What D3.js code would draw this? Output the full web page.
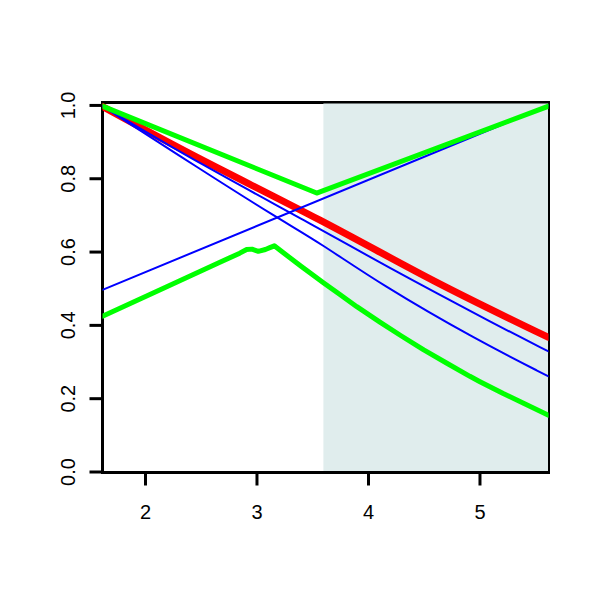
<!DOCTYPE html>
<html><head><meta charset="utf-8">
<script src="https://cdn.jsdelivr.net/npm/d3@7"></script>
<style>body{margin:0;background:#fff}svg{display:block}svg text{font-family:"Liberation Sans",Arial,sans-serif;font-size:20px}</style>
</head><body><svg id="c" width="600" height="600"></svg>
<script>
const xTicks = [2, 3, 4, 5];
const yTicks = [0, 0.2, 0.4, 0.6, 0.8, 1.0];
const xDomain = [1.619, 5.619];
const shadeStart = 3.6;

const redX = [1.619, 2.49, 3.57, 4.6, 5.619];
const redY = [0.997, 0.855, 0.687, 0.52, 0.367];

const blueUpX = [1.619, 5.619];
const blueUpY = [0.497, 1.0];

const blueMidX = [1.619, 2.49, 3.57, 4.107, 5.183, 5.619];
const blueMidY = [0.998, 0.841, 0.664, 0.570, 0.396, 0.329];

const blueLowX = [1.619, 2.49, 3.18, 3.57, 4.107, 4.975, 5.619];
const blueLowY = [0.998, 0.827, 0.694, 0.625, 0.513, 0.360, 0.261];

const greenUpX = [1.619, 3.54, 5.619];
const greenUpY = [0.998, 0.761, 0.998];

const greenLowX = [1.619, 2.2, 2.672, 2.85, 2.912, 2.96, 3.016, 3.08, 3.12, 3.16, 3.4, 3.6, 3.748, 3.9, 4.107, 4.3, 4.5, 4.7, 4.914, 5.0, 5.213, 5.4, 5.619];
const greenLowY = [0.425, 0.506, 0.572, 0.597, 0.607, 0.608, 0.602, 0.607, 0.612, 0.617, 0.561, 0.516, 0.484, 0.451, 0.409, 0.371, 0.333, 0.298, 0.261, 0.247, 0.214, 0.187, 0.155];

const svg = d3.select("#c");
const L = 102.5, R = 548.5, T = 102.5, B = 472.5;
const x = d3.scaleLinear().domain(xDomain).range([L, R]);
const y = d3.scaleLinear().domain([0, 1.008]).range([472, T]);

svg.append("defs").append("clipPath").attr("id","clip")
  .append("rect").attr("x", L).attr("y", T).attr("width", R - L).attr("height", B - T);

// box
svg.append("rect").attr("x", L).attr("y", T).attr("width", R - L).attr("height", B - T)
  .attr("fill", "none").attr("stroke", "#000").attr("stroke-width", 3);

// shaded region
svg.append("rect").attr("x", x(shadeStart)).attr("y", 103.5)
  .attr("width", 548 - x(shadeStart)).attr("height", 471 - 103.5)
  .attr("fill", "#e0eded");

// axes
const xAxis = d3.axisBottom(x).tickValues(xTicks).tickSize(13).tickFormat(d3.format("d"));
const gx = svg.append("g").attr("transform", `translate(0,${B})`).call(xAxis)
  .attr("font-size", 20).attr("font-family", "Liberation Sans, Arial, sans-serif");
gx.select(".domain").remove();
gx.selectAll("line").attr("stroke-width", 3);
gx.selectAll("text").attr("fill", "#000").attr("dy", null).attr("y", 46);

const yAxis = d3.axisLeft(y).tickValues(yTicks).tickSize(13).tickFormat(d3.format(".1f"));
const gy = svg.append("g").attr("transform", `translate(${L},0)`).call(yAxis)
  .attr("font-size", 20).attr("font-family", "Liberation Sans, Arial, sans-serif");
gy.select(".domain").remove();
gy.selectAll("line").attr("stroke-width", 3);
gy.selectAll(".tick").attr("transform", "translate(0,0)");
gy.selectAll(".tick line").attr("transform", d => `translate(0,${y(d)})`);
gy.selectAll("text").attr("fill", "#000")
  .attr("x", 0).attr("y", 0).attr("dy", null)
  .attr("text-anchor", "middle")
  .attr("transform", d => `translate(${75 - L},${y(d)}) rotate(-90)`);

const plot = svg.append("g").attr("clip-path", "url(#clip)");
function draw(xs, ys, color, w, curve) {
  const pts = xs.map((v, i) => [v, ys[i]]);
  plot.append("path").datum(pts)
    .attr("d", d3.line().x(d => x(d[0])).y(d => y(d[1])).curve(curve))
    .attr("fill", "none").attr("stroke", color).attr("stroke-width", w)
    .attr("stroke-linejoin", "round").attr("stroke-linecap", "round");
}
draw(redX, redY, "#ff0000", 7, d3.curveNatural);
draw(blueUpX, blueUpY, "#0000ff", 2, d3.curveLinear);
draw(blueMidX, blueMidY, "#0000ff", 2, d3.curveBasis);
draw(blueLowX, blueLowY, "#0000ff", 2, d3.curveBasis);
draw(greenUpX, greenUpY, "#00ff00", 5, d3.curveLinear);
draw(greenLowX, greenLowY, "#00ff00", 5, d3.curveLinear);
</script></body></html>
